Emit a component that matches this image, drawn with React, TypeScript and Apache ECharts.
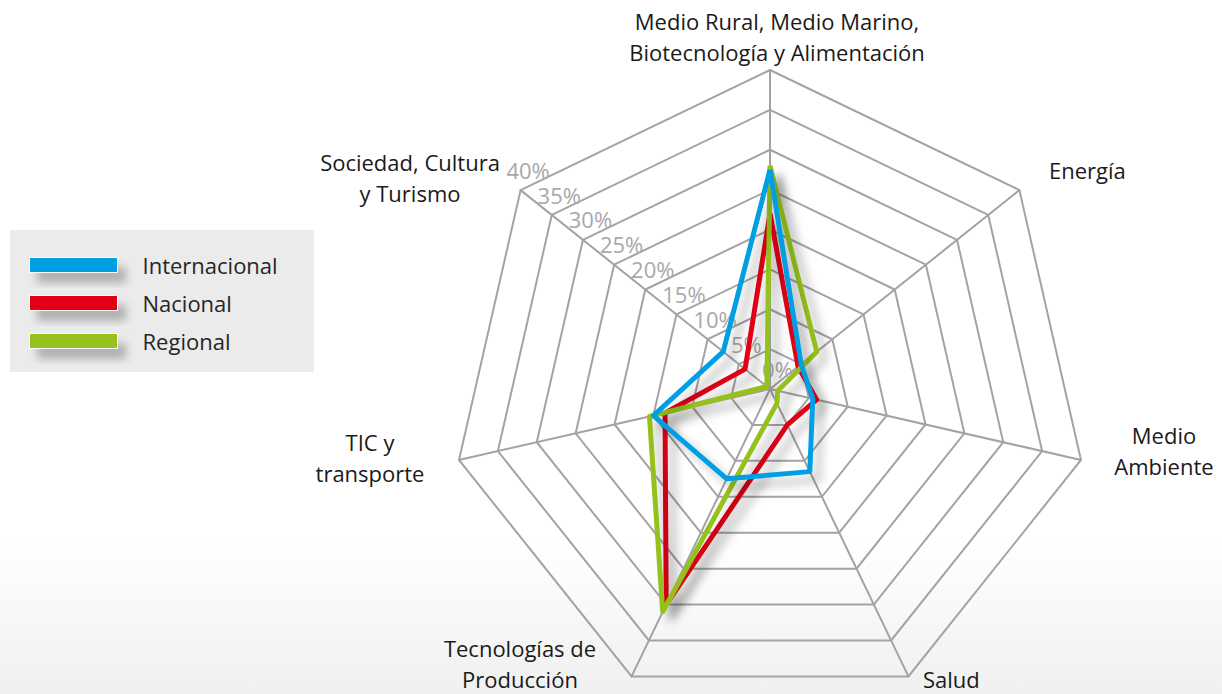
import React, { useEffect, useRef } from 'react';
import * as echarts from 'echarts';

// Categories in clockwise order starting from the top
const categories = [
  'Medio Rural, Medio Marino,\nBiotecnología y Alimentación',
  'Energía',
  'Medio\nAmbiente',
  'Salud',
  'Tecnologías de\nProducción',
  'TIC y\ntransporte',
  'Sociedad, Cultura\ny Turismo',
];

// Values (%) in the same clockwise order
const internacional = [27.5, 5, 5.5, 11.5, 12.5, 15, 7.5];
const nacional = [22, 4.5, 6, 5, 30, 13.5, 4];
const regional = [28, 7.5, 1, 2, 31, 15.5, 0.5];

const seriesNames = ['Internacional', 'Nacional', 'Regional'];
const axisMax = 40;
const axisStep = 5;

// Layout of category names (positions are layout, not data)
const nameLayout = [
  { x: 777, y: 36, align: 'center' },
  { x: 1049, y: 170, align: 'left' },
  { x: 1164, y: 450, align: 'center' },
  { x: 923, y: 679, align: 'left' },
  { x: 520, y: 663, align: 'center' },
  { x: 370, y: 457, align: 'center' },
  { x: 410, y: 177, align: 'center' },
];

const COLORS: Record<string, string> = {
  Internacional: '#009fe3',
  Nacional: '#e30613',
  Regional: '#95c11f',
};

// ECharts lays indicators out counter-clockwise; map clockwise data to that order
const order = [0, 6, 5, 4, 3, 2, 1];

export default function App() {
  const ref = useRef<HTMLDivElement>(null);
  useEffect(() => {
    const chart = echarts.init(ref.current!, null, { renderer: 'svg' });
    const valuesByName: Record<string, number[]> = {
      Internacional: internacional,
      Nacional: nacional,
      Regional: regional,
    };
    const drawOrder = ['Nacional', 'Regional', 'Internacional'];
    const font = '"Open Sans", Roboto, sans-serif';
    chart.setOption({
      animation: false,
      legend: {
        data: seriesNames,
        orient: 'vertical',
        left: 10,
        top: 230,
        icon: 'rect',
        itemWidth: 88,
        itemHeight: 15,
        itemGap: 16,
        backgroundColor: '#ebebeb',
        padding: [24, 36, 20, 19],
        selectedMode: false,
        itemStyle: {
          borderColor: '#ffffff',
          borderWidth: 1,
          shadowBlur: 8,
          shadowColor: 'rgba(0,0,0,0.25)',
          shadowOffsetX: 8,
          shadowOffsetY: 10,
        },
        textStyle: {
          fontSize: 22,
          color: '#262626',
          fontFamily: font,
          padding: [0, 0, 0, 20],
        },
      },
      radar: {
        center: [770, 389],
        radius: 319,
        startAngle: 90,
        splitNumber: axisMax / axisStep,
        shape: 'polygon',
        indicator: order.map((i) => ({
          name: categories[i],
          min: 0,
          max: axisMax,
          ...(i === 6
            ? {
                axisLabel: {
                  show: true,
                  formatter: (v: number) => `${v}%`,
                  color: '#a8a8a8',
                  fontSize: 22,
                  fontFamily: font,
                  showMinLabel: true,
                  showMaxLabel: true,
                  align: 'center',
                  verticalAlign: 'bottom',
                  margin: -12,
                },
              }
            : {}),
        })),
        axisName: { show: false },
        axisLine: { lineStyle: { color: '#a3a3a3', width: 2 } },
        splitLine: { lineStyle: { color: '#a3a3a3', width: 2 } },
        splitArea: { show: false },
        axisTick: { show: false },
        axisLabel: { show: false },
      },
      graphic: categories.map((c, i) => ({
        type: 'text',
        x: nameLayout[i].x,
        y: nameLayout[i].y,
        silent: true,
        style: {
          text: c,
          align: nameLayout[i].align,
          verticalAlign: 'middle',
          font: `22px ${font}`,
          lineHeight: 31,
          fill: '#1a1a1a',
        },
      })),
      series: [
        {
          type: 'radar',
          symbol: 'none',
          data: drawOrder.map((n) => ({
            name: n,
            value: order.map((i) => valuesByName[n][i]),
            itemStyle: { color: COLORS[n] },
            lineStyle: {
              color: COLORS[n],
              width: 5,
              shadowBlur: 10,
              shadowColor: 'rgba(0,0,0,0.28)',
              shadowOffsetX: 8,
              shadowOffsetY: 8,
            },
          })),
        },
      ],
    });
    return () => chart.dispose();
  }, []);
  return (
    <div
      ref={ref}
      style={{
        position: 'absolute',
        left: 0,
        top: 0,
        width: 1222,
        height: 694,
        background: 'linear-gradient(to bottom, #ffffff 0%, #ffffff 78%, #f0f0f0 100%)',
      }}
    />
  );
}
